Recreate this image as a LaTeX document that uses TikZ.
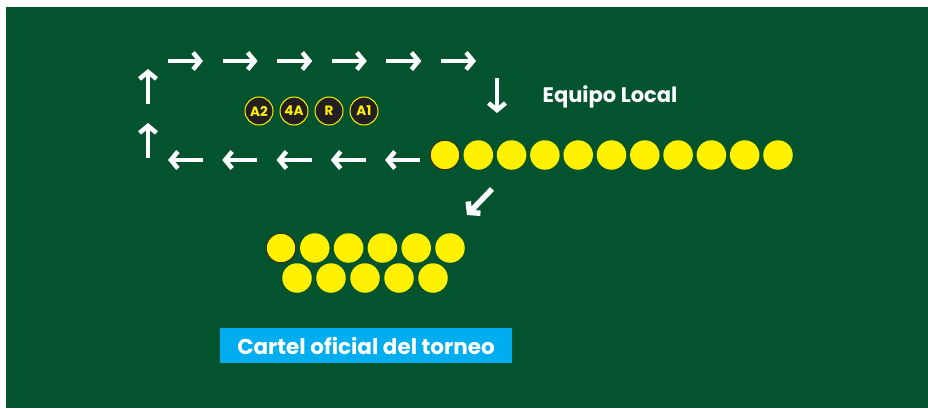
\documentclass[tikz,border=0pt]{standalone}
\usepackage{fontspec}
\setmainfont{Poppins}
\usetikzlibrary{arrows.meta}
\definecolor{bg}{HTML}{03532F}
\definecolor{ballc}{HTML}{FFF100}
\definecolor{cyanlab}{HTML}{00AEEF}
\definecolor{badgec}{HTML}{231F20}
\definecolor{rim}{HTML}{3B2A14}
\begin{document}
\begin{tikzpicture}[x=1pt,y=-1pt,
  arr/.style={white, line width=4.5pt, -{Straight Barb[length=7pt,width=17pt]}},
  ball/.style={circle, fill=ballc, minimum size=29.5pt, inner sep=0pt},
  firstball/.style={ball, draw=rim, line width=1pt},
  badge/.style={circle, fill=badgec, draw=ballc, line width=1pt, minimum size=28pt, inner sep=0pt, text=ballc, font=\bfseries\fontsize{13.5}{14}\selectfont},
  lbl/.style={text=white, font=\bfseries\fontsize{21}{24}\selectfont, inner sep=0pt}
]
\useasboundingbox (0,0) rectangle (928,409);
\fill[white] (0,0) rectangle (928,409);
\fill[bg] (6,7) rectangle (928,408);
% top arrows to the right
\foreach \i in {0,...,5} {
  \coordinate (ts\i) at (168+54.6*\i,61);
  \coordinate (te\i) at (203+54.6*\i,61);
  \draw[arr] (ts\i) -- (te\i);
}
% bottom arrows to the left
\foreach \i in {0,...,4} {
  \coordinate (ls\i) at (420-54.25*\i,160);
  \coordinate (le\i) at (385-54.25*\i,160);
  \draw[arr] (ls\i) -- (le\i);
}
% up arrows
\coordinate (u1s) at (148,104); \coordinate (u1e) at (148,69);
\coordinate (u2s) at (148,158); \coordinate (u2e) at (148,123);
\draw[arr] (u1s) -- (u1e);
\draw[arr] (u2s) -- (u2e);
% down arrow
\coordinate (ds) at (497,78); \coordinate (de) at (497,113);
\draw[arr] (ds) -- (de);
% diagonal arrow
\coordinate (gs) at (492,189); \coordinate (ge) at (467,215);
\draw[arr, line width=5.5pt] (gs) -- (ge);
% badges
\node[badge] (bA2) at (259,111) {A2};
\node[badge] (b4A) at (294,111) {4A};
\node[badge] (bR) at (329,111) {R};
\node[badge] (bA1) at (364,111) {A1};
% main row of balls
\node[firstball] (m0) at (445,155) {};
\foreach \i in {1,...,10} \node[ball] (m\i) at (445+33.3*\i,155) {};
% lower group
\node[firstball] (r0) at (281,248) {};
\foreach \i in {1,...,5} \node[ball] (r\i) at (281+33.8*\i,248) {};
\foreach \i in {0,...,4} \node[ball] (s\i) at (297+34*\i,278) {};
% labels
\node[lbl] (eq) at (610,97) {Equipo Local};
\node[fill=cyanlab, minimum width=292pt, minimum height=35pt, inner sep=0pt] (box) at (366,345.5) {};
\node[lbl, font=\bfseries\fontsize{21.5}{24}\selectfont] (cartel) at (box.center) {Cartel oficial del torneo};
\end{tikzpicture}
\end{document}
